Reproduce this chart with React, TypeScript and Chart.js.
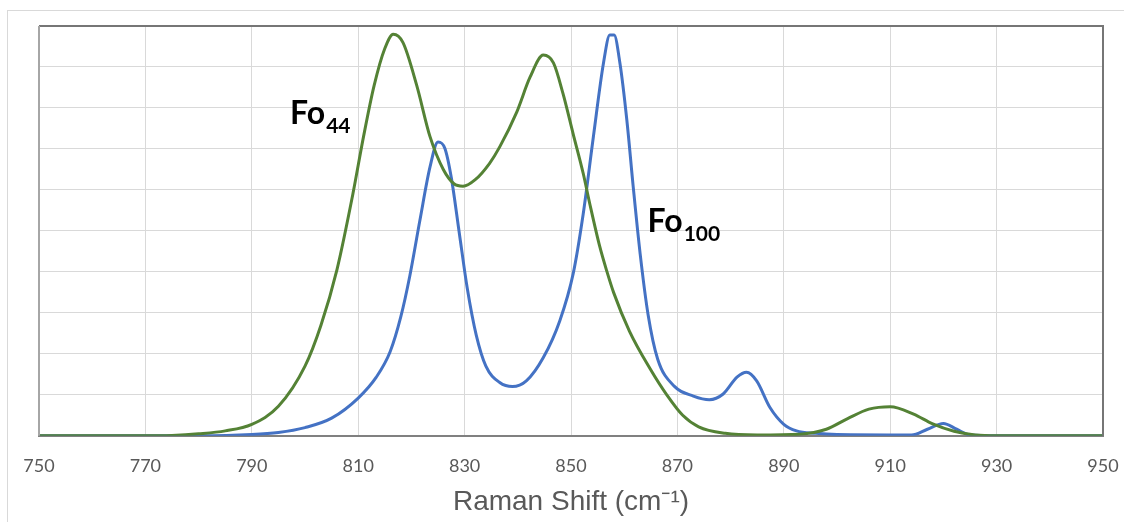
import React, { useEffect, useRef } from "react";
import { Chart, registerables } from "chart.js";

Chart.register(...registerables);

// Fo44 (green) spectrum: wavenumber (cm-1) and relative intensity
const fo44Shift = [750, 770, 775, 780, 785, 790, 795, 800, 803, 806, 809, 811, 813, 815, 816.6, 818.4, 821, 823.5, 826, 828, 829.7, 832, 834.7, 836.6, 839.8, 842.3, 844.8, 846.7, 848.5, 850.4, 852.3, 853.6, 855.4, 856.7, 858, 861, 864.9, 868, 871, 874, 879, 885, 893, 898, 902, 906, 910, 914.4, 918, 922, 926, 930, 950];
const fo44Intensity = [0, 0, 0.01, 0.05, 0.12, 0.28, 0.72, 1.7, 2.7, 4.05, 5.9, 7.3, 8.55, 9.45, 9.8, 9.6, 8.55, 7.3, 6.5, 6.15, 6.09, 6.25, 6.65, 7.05, 7.9, 8.75, 9.29, 9.1, 8.35, 7.37, 6.4, 5.62, 4.62, 4.03, 3.5, 2.55, 1.63, 1.0, 0.5, 0.22, 0.06, 0.02, 0.04, 0.16, 0.42, 0.65, 0.71, 0.53, 0.29, 0.11, 0.02, 0, 0];

// Fo100 (blue) spectrum
const fo100Shift = [750, 780, 790, 795, 800, 805, 810, 813.4, 816, 818, 819.7, 821.6, 823.5, 825, 826.3, 827.5, 829, 830.5, 832.2, 834, 836.6, 839, 841.6, 844.8, 847.9, 850.4, 852.3, 854.2, 856.1, 857.3, 858.1, 859.2, 860.5, 861.7, 863, 864.5, 866.3, 869.5, 873, 876, 878.6, 881.2, 883, 884.9, 887.4, 890, 892.4, 896, 900, 914, 917, 920, 922.5, 925, 930, 950];
const fo100Intensity = [0, 0, 0.03, 0.08, 0.2, 0.43, 0.92, 1.43, 2.05, 2.9, 3.9, 5.26, 6.56, 7.17, 7.01, 6.3, 4.95, 3.6, 2.45, 1.7, 1.3, 1.2, 1.34, 1.91, 2.81, 3.95, 5.42, 7.29, 9.09, 9.78, 9.78, 9.09, 7.7, 6.07, 4.44, 2.95, 1.87, 1.2, 0.97, 0.88, 1.02, 1.43, 1.55, 1.34, 0.69, 0.28, 0.12, 0.06, 0.03, 0.02, 0.16, 0.3, 0.16, 0.02, 0, 0];

const xTitle = "Raman Shift (cm\u207B\u00B9)";

// Curve labels: main text, subscript, anchor position (cm-1, intensity)
const labelMain = ["Fo", "Fo"];
const labelSub = ["44", "100"];
const labelX = [797.2, 864.4];
const labelY = [7.6, 4.97];

const FONT = "Lato, 'Open Sans', sans-serif";
const TITLE_FONT = "'Liberation Sans', Arial, sans-serif";

export default function App() {
  const ref = useRef<HTMLCanvasElement | null>(null);

  useEffect(() => {
    const canvas = ref.current;
    if (!canvas) return;

    const labelsPlugin = {
      id: "curveLabels",
      afterDatasetsDraw(chart: any) {
        const { ctx, scales } = chart;
        ctx.save();
        ctx.fillStyle = "#000000";
        ctx.textBaseline = "alphabetic";
        ctx.textAlign = "left";
        for (let i = 0; i < labelMain.length; i++) {
          const px = scales.x.getPixelForValue(labelX[i]);
          const py = scales.y.getPixelForValue(labelY[i]);
          ctx.font = `bold 32px ${FONT}`;
          ctx.fillText(labelMain[i], px, py);
          const w = ctx.measureText(labelMain[i]).width;
          ctx.font = `bold 21px ${FONT}`;
          ctx.fillText(labelSub[i], px + w + 1, py + 9);
        }
        ctx.restore();
      },
    };

    const framePlugin = {
      id: "frame",
      afterDraw(chart: any) {
        const { ctx, chartArea } = chart;
        const { left, right, top, bottom } = chartArea;
        ctx.save();
        ctx.lineWidth = 2;
        ctx.strokeStyle = "#767676";
        ctx.beginPath();
        ctx.moveTo(left, top);
        ctx.lineTo(right, top);
        ctx.lineTo(right, bottom);
        ctx.stroke();
        ctx.strokeStyle = "#a6a6a6";
        ctx.beginPath();
        ctx.moveTo(left, top);
        ctx.lineTo(left, bottom);
        ctx.stroke();
        ctx.restore();
      },
    };

    const chart = new Chart(canvas, {
      type: "line",
      data: {
        datasets: [
          {
            label: "Fo44",
            data: fo44Shift.map((x, i) => ({ x, y: fo44Intensity[i] })),
            borderColor: "#548235",
            borderWidth: 3,
            pointRadius: 0,
            cubicInterpolationMode: "monotone",
            fill: false,
          },
          {
            label: "Fo100",
            data: fo100Shift.map((x, i) => ({ x, y: fo100Intensity[i] })),
            borderColor: "#4472C4",
            borderWidth: 3,
            pointRadius: 0,
            cubicInterpolationMode: "monotone",
            fill: false,
          },
        ],
      },
      options: {
        responsive: false,
        animation: false,
        devicePixelRatio: 1,
        layout: { padding: { left: 39, right: 21, top: 26, bottom: 3 } },
        plugins: {
          legend: { display: false },
          tooltip: { enabled: false },
        },
        scales: {
          x: {
            type: "linear",
            min: 750,
            max: 950,
            afterFit(scale: any) {
              scale.paddingLeft = 0;
              scale.paddingRight = 0;
            },
            ticks: {
              stepSize: 20,
              color: "#595959",
              font: { family: FONT, size: 18 },
              padding: 20,
            },
            grid: { color: "#d9d9d9", lineWidth: 1, drawTicks: false },
            border: { color: "#808080", width: 2 },
            title: {
              display: true,
              text: xTitle,
              color: "#595959",
              font: { family: TITLE_FONT, size: 28 },
              padding: { top: -12, bottom: 0 },
            },
          },
          y: {
            min: 0,
            max: 10,
            ticks: { stepSize: 1, display: false },
            grid: { color: "#d9d9d9", lineWidth: 1, drawTicks: false },
            border: { display: false },
          },
        },
      },
      plugins: [labelsPlugin, framePlugin],
    } as any);

    return () => chart.destroy();
  }, []);

  return (
    <div
      style={{
        position: "fixed",
        left: 0,
        top: 0,
        width: 1124,
        height: 522,
        overflow: "hidden",
        background: "#ffffff",
      }}
    >
      <div
        style={{
          position: "absolute",
          left: 7,
          top: 10,
          width: 1300,
          height: 700,
          border: "1px solid #d9d9d9",
        }}
      />
      <canvas
        ref={ref}
        width={1124}
        height={522}
        style={{ position: "absolute", left: 0, top: 0, width: 1124, height: 522 }}
      />
    </div>
  );
}
